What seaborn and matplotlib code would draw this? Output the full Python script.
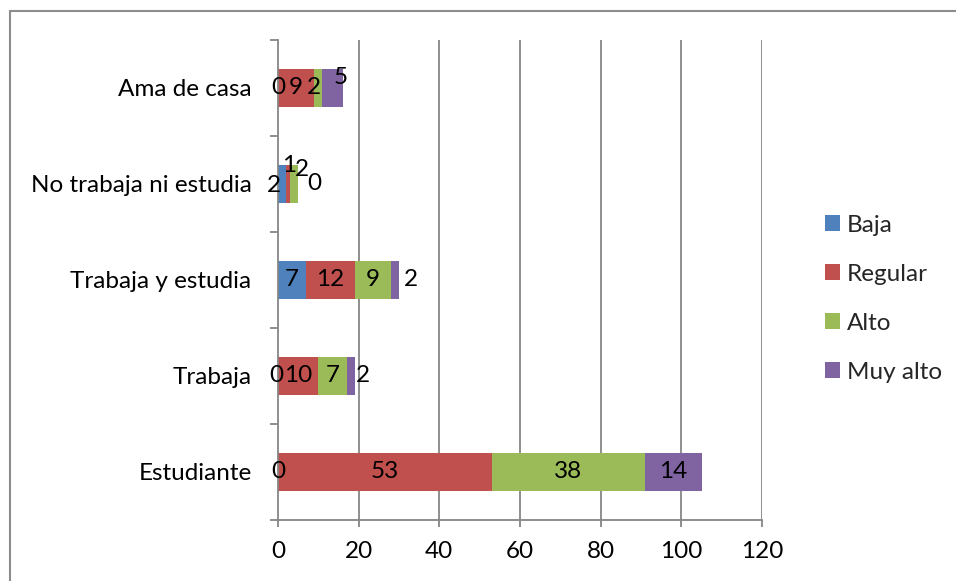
import matplotlib
matplotlib.use("Agg")
import matplotlib.pyplot as plt
from matplotlib.lines import Line2D
from matplotlib.patches import Patch
import seaborn as sns
import pandas as pd
import numpy as np

# Occupation categories, listed top to bottom
categories = ["Ama de casa", "No trabaja ni estudia", "Trabaja y estudia", "Trabaja", "Estudiante"]
levels = ["Baja", "Regular", "Alto", "Muy alto"]

baja = [0, 2, 7, 0, 0]
regular = [9, 1, 12, 10, 53]
alto = [2, 2, 9, 7, 38]
muy_alto = [5, 0, 2, 2, 14]

x_ticks = [0, 20, 40, 60, 80, 100, 120]

colors = ["#4F81BD", "#C0504D", "#9BBB59", "#8064A2"]

# Label nudges in pixels (dx, dy up) for crowded segments
nudges = {
    ("Ama de casa", "Alto"): (-4, 0),
    ("Ama de casa", "Muy alto"): (8, 11),
    ("No trabaja ni estudia", "Baja"): (-8, -2),
    ("No trabaja ni estudia", "Regular"): (1, 18),
    ("No trabaja ni estudia", "Alto"): (8, 14),
    ("No trabaja ni estudia", "Muy alto"): (16, 0),
    ("Trabaja y estudia", "Muy alto"): (16, 0),
    ("Trabaja", "Baja"): (-2, 0),
    ("Trabaja", "Muy alto"): (12, 0),
}

FS = 17.5

sns.set_theme(style="white")
plt.rcParams["font.family"] = ["Lato", "DejaVu Sans"]

series = {"Baja": baja, "Regular": regular, "Alto": alto, "Muy alto": muy_alto}
rows = []
for lvl in levels:
    for cat, v in zip(categories, series[lvl]):
        rows.append({"categoria": cat, "nivel": lvl, "valor": v})
df = pd.DataFrame(rows)
df["fin"] = df.groupby("categoria")["valor"].cumsum()
df["inicio"] = df["fin"] - df["valor"]

fig = plt.figure(figsize=(9.56, 5.81), dpi=100)
ax = fig.add_axes([278 / 956, 1 - 520 / 581, (762 - 278) / 956, (520 - 40) / 581])

# Stacked bars: draw cumulative totals from the last level down to the first
for lvl, col in reversed(list(zip(levels, colors))):
    sub = df[df["nivel"] == lvl]
    sns.barplot(data=sub, x="fin", y="categoria", order=categories, color=col,
                saturation=1, width=0.4, errorbar=None, linewidth=0, ax=ax, orient="h")

ax.set_xlim(0, 120)
ax.set_ylim(4.5, -0.5)
ax.set_xlabel("")
ax.set_ylabel("")

grid_col = "#868686"
ax.set_xticks(x_ticks)
ax.set_xticklabels([str(t) for t in x_ticks], fontsize=FS, color="black")
for t in x_ticks[1:]:
    ax.axvline(t, color=grid_col, lw=1.3, zorder=0)

ax.set_yticks(range(len(categories)))
ax.set_yticklabels(categories, fontsize=FS, color="black")
ax.set_yticks(np.arange(-0.5, len(categories), 1.0), minor=True)
ax.tick_params(axis="y", which="major", length=0, pad=19)
ax.tick_params(axis="y", which="minor", left=True, length=6, width=1.3, color=grid_col, direction="out")
ax.tick_params(axis="x", which="major", bottom=True, length=5, width=1.3, color=grid_col, direction="out", pad=10)

for side in ["top", "right"]:
    ax.spines[side].set_visible(False)
for side in ["left", "bottom"]:
    ax.spines[side].set_color(grid_col)
    ax.spines[side].set_linewidth(1.3)

# Value labels centred on each segment
cat_pos = {c: i for i, c in enumerate(categories)}
for _, r in df.iterrows():
    dx, dy = nudges.get((r["categoria"], r["nivel"]), (0, 0))
    ax.annotate(str(int(r["valor"])),
                xy=((r["inicio"] + r["fin"]) / 2, cat_pos[r["categoria"]]),
                xytext=(dx * 0.72, dy * 0.72), textcoords="offset points",
                ha="center", va="center", fontsize=FS, color="black", zorder=5)

handles = [Patch(facecolor=c, edgecolor="none") for c in colors]
fig.legend(handles, levels, loc="center left", bbox_to_anchor=(0.863, 0.486),
           frameon=False, fontsize=FS, handlelength=0.6, handleheight=0.6,
           handletextpad=0.3, labelspacing=1.15, borderpad=0, borderaxespad=0)

# Outer chart frame
frame_col = "#8c8c8c"
fig.add_artist(Line2D([9.5 / 956, 9.5 / 956], [0, 1 - 10.5 / 581], color=frame_col, lw=1.5,
                      transform=fig.transFigure))
fig.add_artist(Line2D([9.5 / 956, 1], [1 - 10.5 / 581, 1 - 10.5 / 581], color=frame_col, lw=1.5,
                      transform=fig.transFigure))

fig.savefig("out.png", dpi=100, facecolor="white")
